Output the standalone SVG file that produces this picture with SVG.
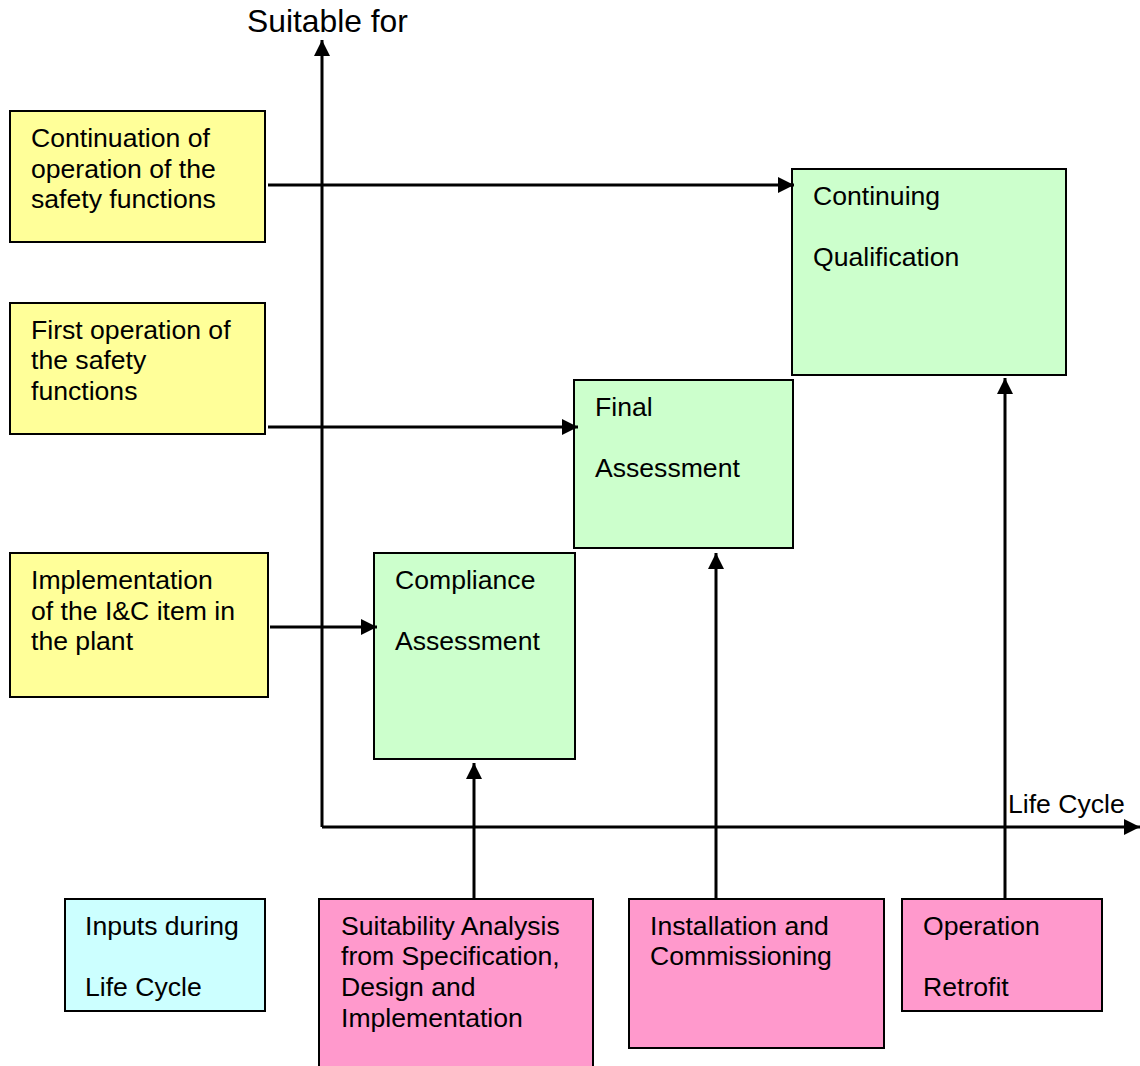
<svg xmlns="http://www.w3.org/2000/svg" width="1140" height="1066" viewBox="0 0 1140 1066">
  <defs>
    <marker id="arrowBig" viewBox="0 0 10 10" refX="10" refY="5" markerWidth="16" markerHeight="16" markerUnits="userSpaceOnUse" orient="auto">
      <path d="M0,0 L10,5 L0,10 z" fill="#000"/>
    </marker>
    <style>
      .box { stroke: #000; stroke-width: 2; }
      .yellow { fill: #FFFF99; }
      .green { fill: #CCFFCC; }
      .cyan { fill: #CCFFFF; }
      .pink { fill: #FF99CC; }
      .lbl { font-family: "Liberation Sans", Arial, sans-serif; font-size: 26.6px; fill: #000; }
      .edge { stroke: #000; stroke-width: 3; fill: none; marker-end: url(#arrowBig); }
    </style>
  </defs>
  <rect width="1140" height="1066" fill="#fff"/>

  <!-- axes -->
  <g id="axes">
    <line class="edge" x1="322" y1="827" x2="322" y2="40"/>
    <line class="edge" x1="322" y1="827" x2="1140" y2="827"/>
    <text class="lbl" x="247" y="32" style="font-size:31.8px">Suitable for</text>
    <text class="lbl" x="1008" y="813">Life Cycle</text>
  </g>

  <!-- requirement boxes -->
  <g id="continuation">
    <rect class="box yellow" x="10" y="111" width="255" height="131"/>
    <text class="lbl" x="31" y="147">Continuation of</text>
    <text class="lbl" x="31" y="178">operation of the</text>
    <text class="lbl" x="31" y="208">safety functions</text>
  </g>
  <g id="first-operation">
    <rect class="box yellow" x="10" y="303" width="255" height="131"/>
    <text class="lbl" x="31" y="339">First operation of</text>
    <text class="lbl" x="31" y="369">the safety</text>
    <text class="lbl" x="31" y="400">functions</text>
  </g>
  <g id="implementation">
    <rect class="box yellow" x="10" y="553" width="258" height="144"/>
    <text class="lbl" x="31" y="589">Implementation</text>
    <text class="lbl" x="31" y="620">of the I&amp;C item in</text>
    <text class="lbl" x="31" y="650">the plant</text>
  </g>

  <!-- qualification stages -->
  <g id="continuing-qualification">
    <rect class="box green" x="792" y="169" width="274" height="206"/>
    <text class="lbl" x="813" y="205">Continuing</text>
    <text class="lbl" x="813" y="266">Qualification</text>
  </g>
  <g id="final-assessment">
    <rect class="box green" x="574" y="380" width="219" height="168"/>
    <text class="lbl" x="595" y="416">Final</text>
    <text class="lbl" x="595" y="477">Assessment</text>
  </g>
  <g id="compliance-assessment">
    <rect class="box green" x="374" y="553" width="201" height="206"/>
    <text class="lbl" x="395" y="589">Compliance</text>
    <text class="lbl" x="395" y="650">Assessment</text>
  </g>

  <!-- life cycle inputs -->
  <g id="inputs">
    <rect class="box cyan" x="65" y="899" width="200" height="112"/>
    <text class="lbl" x="85" y="935">Inputs during</text>
    <text class="lbl" x="85" y="996">Life Cycle</text>
  </g>
  <g id="suitability-analysis">
    <rect class="box pink" x="319" y="899" width="274" height="180"/>
    <text class="lbl" x="341" y="935">Suitability Analysis</text>
    <text class="lbl" x="341" y="965">from Specification,</text>
    <text class="lbl" x="341" y="996">Design and</text>
    <text class="lbl" x="341" y="1027">Implementation</text>
  </g>
  <g id="installation">
    <rect class="box pink" x="629" y="899" width="255" height="149"/>
    <text class="lbl" x="650" y="935">Installation and</text>
    <text class="lbl" x="650" y="965">Commissioning</text>
  </g>
  <g id="operation">
    <rect class="box pink" x="902" y="899" width="200" height="112"/>
    <text class="lbl" x="923" y="935">Operation</text>
    <text class="lbl" x="923" y="996">Retrofit</text>
  </g>

  <!-- connectors -->
  <g id="connectors">
    <line class="edge" x1="268" y1="185" x2="794" y2="185"/>
    <line class="edge" x1="268" y1="427" x2="578" y2="427"/>
    <line class="edge" x1="270" y1="627" x2="377" y2="627"/>
    <line class="edge" x1="474" y1="898" x2="474" y2="763"/>
    <line class="edge" x1="716" y1="898" x2="716" y2="553"/>
    <line class="edge" x1="1005" y1="898" x2="1005" y2="378"/>
  </g>
</svg>
